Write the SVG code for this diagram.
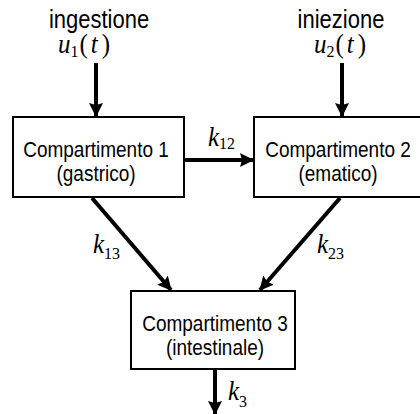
<svg xmlns="http://www.w3.org/2000/svg" width="420" height="414" viewBox="0 0 420 414">
<defs>
<style>
.box{fill:#fff;stroke:#000;stroke-width:2}
.lbl{font-family:"Liberation Sans",Arial,sans-serif;font-size:19px;fill:#000;text-anchor:middle}
.ttl{font-family:"Liberation Sans",Arial,sans-serif;font-size:22px;fill:#000;text-anchor:middle}
.m{font-family:"Liberation Serif","Times New Roman",serif;font-size:25px;fill:#000}
.i{font-style:italic}
.s{font-size:16px}
.arr{stroke:#000;stroke-width:4;fill:none;marker-end:url(#ah)}
</style>
<marker id="ah" markerUnits="userSpaceOnUse" viewBox="0 -8 14 16" refX="13" refY="0" markerWidth="14" markerHeight="16" orient="auto">
<path d="M0,-7 L14,0 L0,7 L2,0 Z" fill="#000"/>
</marker>
</defs>

<g id="input1">
<text class="ttl" transform="translate(99,28) scale(1,1.18)">ingestione</text>
<text class="m" transform="translate(58,53) scale(1,1.1)"><tspan class="i">u</tspan><tspan class="s" dy="4">1</tspan><tspan dy="-4" dx="1">(</tspan><tspan class="i" dx="3">t</tspan><tspan dx="4">)</tspan></text>
</g>

<g id="input2">
<text class="ttl" transform="translate(341,28) scale(1,1.18)">iniezione</text>
<text class="m" transform="translate(314,53) scale(1,1.1)"><tspan class="i">u</tspan><tspan class="s" dy="4">2</tspan><tspan dy="-4" dx="1">(</tspan><tspan class="i" dx="3">t</tspan><tspan dx="4">)</tspan></text>
</g>

<g id="comp1">
<rect class="box" x="13" y="117" width="171" height="80"/>
<text class="lbl" transform="translate(96,157) scale(1,1.18)">Compartimento 1</text>
<text class="lbl" transform="translate(96,181) scale(1,1.18)">(gastrico)</text>
</g>

<g id="comp2">
<rect class="box" x="254" y="117" width="170" height="80"/>
<text class="lbl" transform="translate(338,157) scale(1,1.18)">Compartimento 2</text>
<text class="lbl" transform="translate(338,181) scale(1,1.18)">(ematico)</text>
</g>

<g id="comp3">
<rect class="box" x="131" y="291" width="164" height="78"/>
<text class="lbl" transform="translate(215,331) scale(1,1.18)">Compartimento 3</text>
<text class="lbl" transform="translate(215,355) scale(1,1.18)">(intestinale)</text>
</g>

<g id="connectors">
<line class="arr" x1="96" y1="63" x2="96" y2="116"/>
<line class="arr" x1="342" y1="63" x2="342" y2="116"/>
<line class="arr" x1="185" y1="160" x2="253" y2="160"/>
<line class="arr" x1="92" y1="198" x2="171" y2="290"/>
<line class="arr" x1="340" y1="198" x2="260" y2="290"/>
<line class="arr" x1="215" y1="370" x2="215" y2="414"/>
</g>

<g id="labels">
<text class="m" transform="translate(208,146) scale(1,1.1)"><tspan class="i">k</tspan><tspan class="s" dy="3">12</tspan></text>
<text class="m" transform="translate(93,253) scale(1,1.1)"><tspan class="i">k</tspan><tspan class="s" dy="5">13</tspan></text>
<text class="m" transform="translate(317,253) scale(1,1.1)"><tspan class="i">k</tspan><tspan class="s" dy="5">23</tspan></text>
<text class="m" transform="translate(228,400) scale(1,1.1)"><tspan class="i">k</tspan><tspan class="s" dy="6">3</tspan></text>
</g>
</svg>
